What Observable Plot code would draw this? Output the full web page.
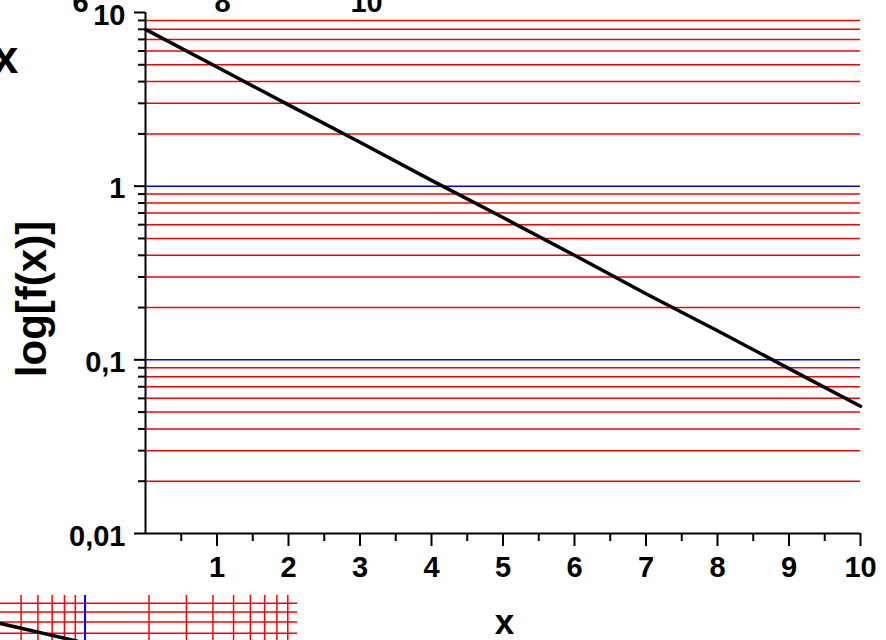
<!DOCTYPE html>
<html><head><meta charset="utf-8">
<script src="https://cdn.jsdelivr.net/npm/d3@7"></script>
<script src="https://cdn.jsdelivr.net/npm/@observablehq/plot@0.6"></script>
<style>
body{margin:0;background:#fff;}
#wrap{position:relative;width:886px;height:640px;overflow:hidden;background:#fff;}
#main{position:absolute;left:0;top:0;}
#frag{position:absolute;left:0;top:595px;width:297px;height:45px;overflow:hidden;}
</style></head><body><div id="wrap"><div id="main"></div><div id="frag"></div></div>
<script>
// ---- main chart data ----
const xValues = [0, 1, 2, 3, 4, 5, 6, 7, 8, 9, 10];
const fValues = [8.0, 4.85, 2.94, 1.79, 1.08, 0.66, 0.40, 0.24, 0.147, 0.089, 0.054];
const xMajorTicks = [1, 2, 3, 4, 5, 6, 7, 8, 9, 10];
const xMinorTicks = [0.5, 1.5, 2.5, 3.5, 4.5, 5.5, 6.5, 7.5, 8.5, 9.5];
const yMajorTicks = [0.01, 0.1, 1, 10];
const yTickLabels = ["0,01", "0,1", "1", "10"];
const yMinorTicks = [0.02, 0.03, 0.04, 0.05, 0.06, 0.07, 0.08, 0.09,
                     0.2, 0.3, 0.4, 0.5, 0.6, 0.7, 0.8, 0.9,
                     2, 3, 4, 5, 6, 7, 8, 9];
const blueLines = [0.1, 1];
const yTitle = "log[f(x)]";
const xTitle = "x";
// stray fragments of neighbouring pictures
const strayTop = ["6", "8", "10"];
const strayLeft = "x";
// ---- fragment chart (bottom-left) data ----
const fragXGrid = [0.5, 0.6, 0.7, 0.8, 0.9, 2, 3, 4, 5, 6, 7, 8, 9];
const fragXBlue = [1];
const fragYGrid = [0.6, 0.7, 0.8, 0.9];
const fragCurveX = [0.4, 0.92];
const fragCurveY = [0.686, 0.54];

const FONT = "'Liberation Sans', Arial, Helvetica, sans-serif";
const curve = xValues.map((x, i) => ({x, y: fValues[i]}));
const strayOffsets = [-65, 77, 221];
const bold = {fontWeight: "bold", fill: "#000"};

const main = Plot.plot({
  width: 886, height: 640,
  marginLeft: 145, marginRight: 26, marginTop: 12, marginBottom: 107,
  style: {fontFamily: FONT, background: "transparent", color: "#000", overflow: "visible"},
  x: {domain: [0, 10], axis: null},
  y: {type: "log", domain: [0.01, 10], axis: null},
  marks: [
    Plot.ruleY(yMinorTicks, {stroke: "#ff0000", strokeWidth: 1.5}),
    Plot.ruleY(blueLines, {stroke: "#0000ff", strokeWidth: 1.5}),
    Plot.line(curve, {x: "x", y: "y", stroke: "#000", strokeWidth: 3.5}),
    Plot.axisY(yMinorTicks, {anchor: "left", tickSize: 7, tickFormat: () => "", label: null, strokeWidth: 2}),
    Plot.axisY(yMajorTicks, {anchor: "left", tickSize: 11, tickFormat: () => "", label: null, strokeWidth: 2}),
    Plot.axisX(xMinorTicks, {anchor: "bottom", tickSize: 8, tickFormat: () => "", label: null, strokeWidth: 2}),
    Plot.axisX(xMajorTicks, {anchor: "bottom", tickSize: 13, tickFormat: () => "", label: null, strokeWidth: 2}),
    Plot.ruleX([0], {strokeWidth: 2}),
    Plot.ruleY([0.01], {strokeWidth: 2}),
    Plot.text(yMajorTicks, {y: d => d, frameAnchor: "left", dx: -20, dy: 3, text: (d, i) => yTickLabels[i],
      textAnchor: "end", fontSize: 29, ...bold}),
    Plot.text(xMajorTicks, {x: d => d, frameAnchor: "bottom", dy: 23, lineAnchor: "top", textAnchor: "middle",
      text: d => String(d), fontSize: 29, ...bold}),
    Plot.text([yTitle], {frameAnchor: "left", dx: -113, dy: 26, rotate: -90, textAnchor: "middle",
      lineAnchor: "middle", text: d => d, fontSize: 42, ...bold}),
    Plot.text([xTitle], {frameAnchor: "bottom", dx: 1.5, dy: 100, lineAnchor: "bottom", textAnchor: "middle",
      text: d => d, fontSize: 35, ...bold}),
    ...strayTop.map((s, i) => Plot.text([s], {frameAnchor: "top-left", dx: strayOffsets[i], dy: -1,
      lineAnchor: "bottom", textAnchor: "middle", text: d => d, fontSize: 29, ...bold})),
    Plot.text([strayLeft], {frameAnchor: "top-left", dx: -140, dy: 60, lineAnchor: "bottom", textAnchor: "middle",
      text: d => d, fontSize: 46, ...bold})
  ]
});
document.getElementById("main").appendChild(main);

const frag = Plot.plot({
  width: 297, height: 45,
  marginLeft: 0, marginRight: 0, marginTop: 0, marginBottom: 0,
  style: {background: "transparent", overflow: "hidden"},
  x: {type: "log", domain: [0.4, 10], axis: null},
  y: {type: "log", domain: [0.545, 1], axis: null},
  marks: [
    Plot.ruleY(fragYGrid, {stroke: "#ff0000", strokeWidth: 1.5}),
    Plot.ruleX(fragXGrid, {stroke: "#ff0000", strokeWidth: 1.5}),
    Plot.ruleX(fragXBlue, {stroke: "#0000ff", strokeWidth: 2}),
    Plot.line(fragCurveX.map((x, i) => ({x, y: fragCurveY[i]})), {x: "x", y: "y", stroke: "#000", strokeWidth: 3.5, clip: true})
  ]
});
document.getElementById("frag").appendChild(frag);
</script>
</body></html>
